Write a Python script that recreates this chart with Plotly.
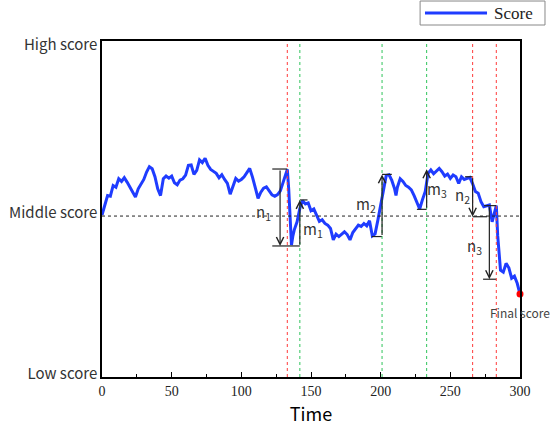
import plotly.graph_objects as go

# ---------------- data ----------------
time = [0, 2, 4, 6, 8, 10, 12, 14, 16, 18, 20, 22, 24, 26, 28, 30, 32, 34, 36, 38,
        40, 42, 44, 46, 48, 50, 52, 54, 56, 58, 60, 62, 64, 66, 68, 70, 72, 74, 76, 78,
        80, 82, 84, 86, 88, 90, 92, 94, 96, 98, 100, 102, 104, 106, 108, 110, 112, 114,
        116, 118, 120, 122, 124, 126, 128, 130, 132, 133, 134, 135, 136, 137, 138, 140,
        142, 144, 146, 148, 150, 152, 154, 156, 158, 160, 162, 164, 166, 168, 170, 172,
        174, 176, 178, 180, 182, 184, 186, 188, 190, 192, 194, 196, 198, 200, 202, 204,
        206, 208, 210, 211, 212, 214, 216, 218, 220, 222, 224, 226, 228, 230, 232, 234,
        236, 238, 240, 242, 244, 246, 248, 250, 252, 254, 256, 258, 260, 262, 264, 266,
        268, 270, 272, 274, 276, 278, 280, 282, 283, 284, 285, 286, 288, 290, 292, 294,
        296, 298, 300]
score = [48.2, 51.5, 54.0, 53.8, 57.0, 56.5, 59.0, 58.2, 59.3, 58.0, 56.6, 54.8, 53.6,
         56.0, 57.5, 58.8, 61.0, 62.6, 62.0, 59.6, 56.0, 54.0, 59.0, 59.8, 59.2, 59.8,
         57.8, 57.2, 58.6, 59.0, 60.1, 63.0, 63.1, 60.3, 61.5, 64.6, 63.8, 65.1, 63.0,
         61.8, 61.2, 60.6, 59.3, 60.2, 58.8, 57.6, 54.4, 57.0, 59.1, 58.3, 58.8, 59.6,
         61.0, 62.1, 59.5, 56.6, 53.2, 55.0, 56.2, 56.6, 55.5, 54.2, 53.8, 54.3, 55.4,
         58.0, 60.5, 61.8, 56.0, 45.2, 39.3, 42.0, 43.8, 46.2, 50.2, 52.5, 51.5, 51.8,
         49.5, 50.0, 48.0, 46.3, 46.8, 45.7, 45.2, 44.2, 40.8, 42.5, 41.8, 42.6, 43.2,
         42.4, 40.8, 43.0, 44.3, 45.2, 44.8, 45.7, 45.0, 46.5, 42.0, 42.6, 46.7, 51.5,
         55.5, 60.0, 60.2, 58.5, 56.0, 54.0, 56.5, 59.0, 58.2, 57.0, 56.5, 55.7, 54.0,
         52.0, 50.0, 52.8, 55.2, 60.6, 61.6, 60.5, 61.3, 62.1, 61.1, 59.8, 60.4, 59.1,
         60.1, 59.6, 57.6, 59.6, 58.8, 59.2, 59.4, 57.5, 55.2, 54.7, 52.2, 50.7, 51.0,
         51.2, 46.2, 49.5, 51.0, 42.0, 36.8, 31.8, 31.2, 33.8, 32.5, 29.4, 30.0, 27.9,
         24.7]

x_ticks = [0, 50, 100, 150, 200, 250, 300]
y_tickvals = [0.9, 48.8, 98.8]
y_ticktext = ["Low score", "Middle score", "High score"]
middle_level = 47.9

red_lines = [133, 266, 283]
green_lines = [142, 201, 233]

# arrows: x position, from level, to level
arrow_names = ["n1", "m1", "m2", "m3", "n2", "n3"]
arrow_x = [127.8, 142, 201, 233, 266, 278]
arrow_from = [61.9, 39.0, 41.8, 49.9, 59.6, 51.0]
arrow_to = [39.0, 52.7, 60.3, 61.8, 47.7, 29.1]

# horizontal bracket bars: x_start, x_end, level
bar_x0 = [122.2, 122.2, 142, 193.6, 201, 226, 260.6, 266, 274.2, 273.5]
bar_x1 = [133, 142, 147.5, 201, 208, 233, 266, 276.4, 283, 283]
bar_level = [61.9, 39.0, 52.7, 41.8, 60.3, 49.9, 59.6, 47.7, 51.0, 29.1]

# labels for segments
label_text = ["n<sub>1</sub>", "m<sub>1</sub>", "m<sub>2</sub>", "m<sub>3</sub>",
              "n<sub>2</sub>", "n<sub>3</sub>"]
label_x = [115.6, 151.5, 189.5, 240.5, 258.4, 267]
label_y = [49.1, 43.8, 51.2, 55.7, 53.9, 38.7]

final_time = 300
final_score = 24.7

BLUE = "#1f3cff"
SANS = "Noto Sans CJK SC"
SERIF = "Liberation Serif"

fig = go.Figure()

fig.add_trace(go.Scatter(x=time, y=score, mode="lines", name="Score",
                         line=dict(color=BLUE, width=3), showlegend=False))

# bracket bars
bx, by = [], []
for a, b, lv in zip(bar_x0, bar_x1, bar_level):
    bx += [a, b, None]
    by += [lv, lv, None]
fig.add_trace(go.Scatter(x=bx, y=by, mode="lines", line=dict(color="#222222", width=1.2),
                         showlegend=False, hoverinfo="skip"))

fig.add_trace(go.Scatter(x=[final_time], y=[final_score], mode="markers",
                         marker=dict(color="red", size=7), showlegend=False,
                         cliponaxis=False))

shapes = []
for xv in red_lines:
    shapes.append(dict(type="line", xref="x", yref="paper", x0=xv, x1=xv, y0=0, y1=1,
                       line=dict(color="#ff3b3b", width=1, dash="dot")))
for xv in green_lines:
    shapes.append(dict(type="line", xref="x", yref="paper", x0=xv, x1=xv, y0=0, y1=1,
                       line=dict(color="#2fc45a", width=1, dash="dot")))
shapes.append(dict(type="line", xref="x", yref="y", x0=0, x1=300, y0=middle_level,
                   y1=middle_level, line=dict(color="#222222", width=1, dash="dot")))

# manual legend (paper coords)
shapes.append(dict(type="rect", xref="paper", yref="paper", x0=0.761, x1=1.0598,
                   y0=1.0476, y1=1.119, line=dict(color="#888888", width=1),
                   fillcolor="white"))
shapes.append(dict(type="line", xref="paper", yref="paper", x0=0.7727, x1=0.9211,
                   y0=1.0833, y1=1.0833, line=dict(color=BLUE, width=3)))

annotations = []
for xv, y0, y1 in zip(arrow_x, arrow_from, arrow_to):
    annotations.append(dict(x=xv, y=y1, ax=xv, ay=y0, xref="x", yref="y", axref="x",
                            ayref="y", text="", showarrow=True, arrowhead=5,
                            arrowsize=1.2, arrowwidth=1.2, arrowcolor="#222222"))
for t, xv, yv in zip(label_text, label_x, label_y):
    annotations.append(dict(x=xv, y=yv, xref="x", yref="y", text=t, showarrow=False,
                            font=dict(family=SANS, size=15, color="#333333")))
annotations.append(dict(x=final_time, y=19.3, xref="x", yref="y", text="Final score",
                        showarrow=False, font=dict(family=SANS, size=12, color="#444444")))
annotations.append(dict(x=0.933, y=1.0833, xref="paper", yref="paper", text="Score",
                        showarrow=False, xanchor="left", yanchor="middle",
                        font=dict(family=SERIF, size=17, color="#222222")))

fig.update_layout(
    width=551, height=429,
    margin=dict(l=102, r=31, t=41, b=52),
    plot_bgcolor="white", paper_bgcolor="white",
    showlegend=False,
    shapes=shapes, annotations=annotations,
    xaxis=dict(range=[0, 300], tickvals=x_ticks, ticks="inside", ticklen=5,
               tickcolor="black", showgrid=False, zeroline=False, automargin=False,
               showline=True, linecolor="black", linewidth=1.5, mirror=True,
               minor=dict(dtick=25, tick0=0, ticks="inside", ticklen=3, tickcolor="black",
                          showgrid=False),
               tickfont=dict(family=SERIF, size=14, color="#222222"),
               title=dict(text="Time", font=dict(family=SANS, size=18, color="black"),
                          standoff=11)),
    yaxis=dict(range=[0, 100], tickvals=y_tickvals, ticktext=y_ticktext, ticks="",
               showgrid=False, zeroline=False, showline=True, linecolor="black",
               linewidth=1.5, mirror=True, automargin=False,
               tickfont=dict(family=SANS, size=15, color="#333333")),
)

# remove the default 8px page margin so the figure starts at the window corner
fig.write_html("out.html", config={"displayModeBar": False},
               post_script="document.body.style.margin='0';")
